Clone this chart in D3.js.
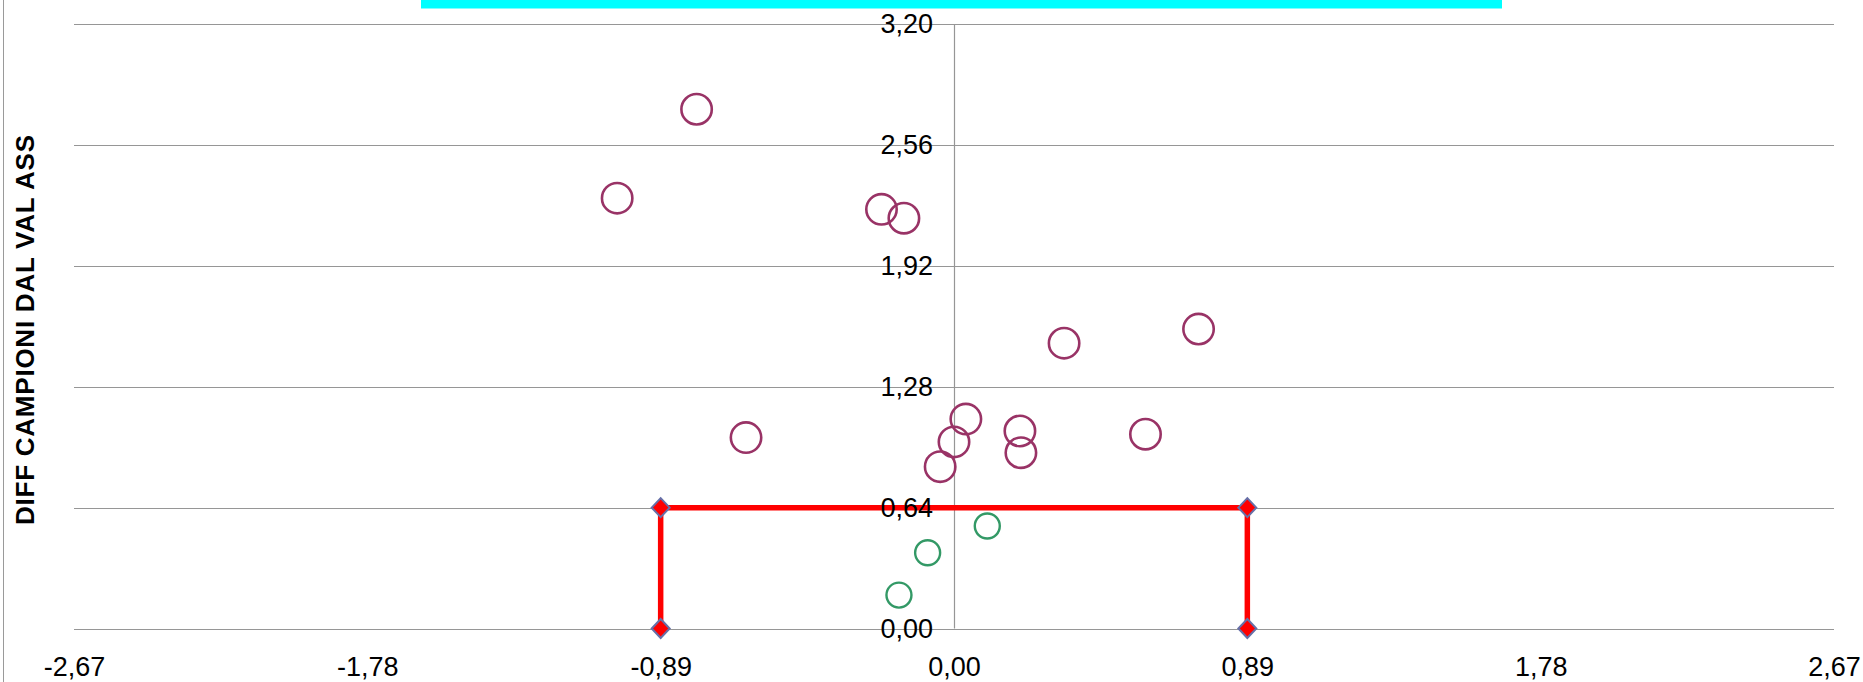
<!DOCTYPE html>
<html>
<head>
<meta charset="utf-8">
<script src="https://cdn.jsdelivr.net/npm/d3@7"></script>
<style>
  html, body { margin: 0; padding: 0; background: #fff; }
  svg { display: block; }
  text { font-family: "Liberation Sans", Arial, sans-serif; }
</style>
</head>
<body>
<svg id="chart" width="1863" height="682"></svg>
<script>
// ---- data ----
const xTicks = [-2.67, -1.78, -0.89, 0, 0.89, 1.78, 2.67];
const yTicks = [0, 0.64, 1.28, 1.92, 2.56, 3.20];
const yTitle = "DIFF CAMPIONI DAL VAL ASS";

const outsideX = [-0.781, -1.022, -0.220, -0.152, 0.334, 0.742, -0.631, 0.036, 0.000, -0.042, 0.200, 0.203, 0.581];
const outsideY = [2.750, 2.279, 2.220, 2.173, 1.511, 1.586, 1.011, 1.109, 0.988, 0.857, 1.046, 0.931, 1.029];
const insideX = [0.101, -0.080, -0.167];
const insideY = [0.543, 0.401, 0.177];

const limitX = [-0.89, -0.89, 0.89, 0.89];
const limitY = [0, 0.64, 0.64, 0];

// ---- layout ----
const svg = d3.select("#chart");
const x = d3.scaleLinear().domain([-2.67, 2.67]).range([74, 1834]);
const y = d3.scaleLinear().domain([0, 3.2]).range([628.5, 24.3]);
const fmt = d => d3.format(".2f")(d).replace(".", ",").replace("−", "-");

// outer left border
svg.append("line").attr("x1", 3.5).attr("x2", 3.5).attr("y1", 0).attr("y2", 682)
  .attr("stroke", "#9a9a9a").attr("stroke-width", 1);

// cyan header strip
svg.append("rect").attr("x", 421).attr("y", 0).attr("width", 1081).attr("height", 8.5)
  .attr("fill", "#00ffff");

// horizontal gridlines
svg.append("g").selectAll("line").data(yTicks).join("line")
  .attr("x1", x(-2.67)).attr("x2", x(2.67))
  .attr("y1", d => Math.round(y(d)) + 0.5).attr("y2", d => Math.round(y(d)) + 0.5)
  .attr("stroke", "#969696").attr("stroke-width", 1.2);

// vertical zero axis line
svg.append("line")
  .attr("x1", Math.round(x(0)) + 0.5).attr("x2", Math.round(x(0)) + 0.5)
  .attr("y1", y(3.2)).attr("y2", y(0))
  .attr("stroke", "#969696").attr("stroke-width", 1.2);

// limit rectangle (red)
const limitPts = limitX.map((v, i) => [v, limitY[i]]);
svg.append("path")
  .attr("d", d3.line().x(d => x(d[0])).y(d => y(d[1]))(limitPts))
  .attr("fill", "none").attr("stroke", "#ff0000").attr("stroke-width", 5.5);

// diamonds
svg.append("g").selectAll("path").data(limitPts).join("path")
  .attr("transform", d => `translate(${x(d[0])},${y(d[1])})`)
  .attr("d", "M0,-9.5L9,0L0,9.5L-9,0Z")
  .attr("fill", "#ff0000").attr("stroke", "#6670a8").attr("stroke-width", 2);

// points outside
svg.append("g").selectAll("circle").data(outsideX.map((v, i) => [v, outsideY[i]])).join("circle")
  .attr("cx", d => x(d[0])).attr("cy", d => y(d[1])).attr("r", 15.2)
  .attr("fill", "none").attr("stroke", "#993366").attr("stroke-width", 2.6);

// points inside
svg.append("g").selectAll("circle").data(insideX.map((v, i) => [v, insideY[i]])).join("circle")
  .attr("cx", d => x(d[0])).attr("cy", d => y(d[1])).attr("r", 12.5)
  .attr("fill", "none").attr("stroke", "#339966").attr("stroke-width", 2.4);

// y axis labels
const yAxis = d3.axisLeft(y).tickValues(yTicks).tickFormat(fmt).tickSize(0).tickPadding(21);
const yg = svg.append("g").attr("transform", `translate(${x(0)},0)`).call(yAxis);
yg.select(".domain").remove();
yg.selectAll("text").attr("font-size", 27).attr("fill", "#000")
  .style("font-family", "'Liberation Sans', Arial, sans-serif");

// x axis labels
const xAxis = d3.axisBottom(x).tickValues(xTicks).tickFormat(fmt).tickSize(0).tickPadding(28.5);
const xg = svg.append("g").attr("transform", `translate(0,${y(0)})`).call(xAxis);
xg.select(".domain").remove();
xg.selectAll("text").attr("font-size", 27).attr("fill", "#000")
  .style("font-family", "'Liberation Sans', Arial, sans-serif");

// y title
svg.append("text")
  .attr("transform", "translate(33.5,330) rotate(-90)")
  .attr("text-anchor", "middle")
  .attr("font-size", 26).attr("font-weight", "bold")
  .attr("textLength", 390).attr("lengthAdjust", "spacing")
  .text(yTitle);
</script>
</body>
</html>
